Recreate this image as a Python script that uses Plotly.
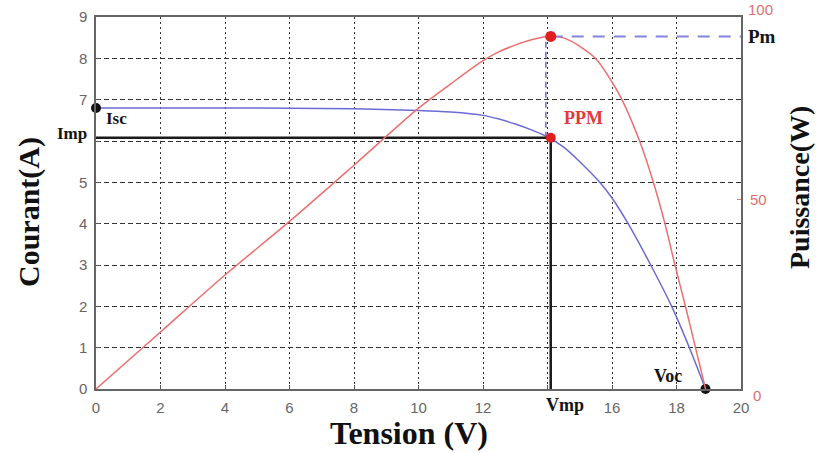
import plotly.graph_objects as go

# ---- data ----
volt_i = [0, 2, 4, 6, 8, 10, 11, 12, 12.5, 13, 13.5, 14, 14.5, 15, 15.6, 16, 16.5, 17.2, 17.85, 18.4, 18.9]
current = [6.8, 6.8, 6.8, 6.79, 6.78, 6.74, 6.7, 6.62, 6.53, 6.41, 6.27, 6.1, 5.85, 5.5, 5.02, 4.62, 4.0, 3.0, 2.0, 1.0, 0]

volt_p = [0, 2, 4, 6, 8, 10, 11, 12, 12.5, 13, 13.5, 14, 14.5, 15, 15.5, 16, 16.3, 16.85, 17.28, 17.64, 17.95, 18.3, 18.6, 18.9]
power = [0, 15.0, 30.0, 44.1, 58.9, 73.9, 80.3, 86.4, 88.8, 90.5, 91.9, 92.8, 92.4, 90.2, 86.9, 80.8, 76.3, 65.4, 54.5, 43.6, 32.7, 21.0, 10.5, 0]

Isc = 6.8
Voc = 18.9
Vmp = 14.1
Imp = 6.08
Pm = 92.8
V_dash = 13.95

x_ticks = [0, 2, 4, 6, 8, 10, 12, 14, 16, 18, 20]
x_ticktext = ["0", "2", "4", "6", "8", "10", "12", "", "16", "18", "20"]
y_ticks = [0, 1, 2, 3, 4, 5, 6, 7, 8, 9]
y_ticktext = ["0", "1", "2", "3", "4", "5", "", "7", "8", "9"]
p_labels = ["0", "50", "100"]
p_label_vals = [0, 50, 100]

X_RANGE = [0, 20]
I_RANGE = [0, 9]
P_RANGE = [0, 97.9]

BLUE = "#6b6bd6"
RED = "#ec6f6f"
DOT_RED = "#e01e1e"
SERIF = "Liberation Serif"
SANS = "Liberation Sans"

fig = go.Figure()

fig.add_trace(go.Scatter(x=volt_p, y=power, yaxis="y2", mode="lines",
                         line=dict(color=RED, width=1.5, shape="spline", smoothing=0.8),
                         hoverinfo="skip", showlegend=False))
fig.add_trace(go.Scatter(x=volt_i, y=current, mode="lines",
                         line=dict(color=BLUE, width=1.5, shape="spline", smoothing=0.8),
                         hoverinfo="skip", showlegend=False))
# Pm dashed horizontal
fig.add_trace(go.Scatter(x=[Vmp, X_RANGE[1]], y=[Pm, Pm], yaxis="y2", mode="lines",
                         line=dict(color="#8484dc", width=2, dash="12px,9px"),
                         hoverinfo="skip", showlegend=False))
# dashed vertical from peak down to PPM
fig.add_trace(go.Scatter(x=[V_dash, V_dash], y=[Imp, Pm * I_RANGE[1] / P_RANGE[1]], mode="lines",
                         line=dict(color="#6a6acc", width=1.5, dash="6px,4px"),
                         hoverinfo="skip", showlegend=False))
# Imp / Vmp black lines
fig.add_trace(go.Scatter(x=[0, Vmp, Vmp], y=[Imp, Imp, 0], mode="lines",
                         line=dict(color="#1a1a1a", width=2.5),
                         hoverinfo="skip", showlegend=False))
# points
fig.add_trace(go.Scatter(x=[0, Voc], y=[Isc, 0], mode="markers", cliponaxis=False,
                         marker=dict(color="#111111", size=10),
                         hoverinfo="skip", showlegend=False))
fig.add_trace(go.Scatter(x=[Vmp], y=[Imp], mode="markers", cliponaxis=False,
                         marker=dict(color=DOT_RED, size=10),
                         hoverinfo="skip", showlegend=False))
fig.add_trace(go.Scatter(x=[Vmp], y=[Pm], yaxis="y2", mode="markers", cliponaxis=False,
                         marker=dict(color=DOT_RED, size=11),
                         hoverinfo="skip", showlegend=False))

L, R, T, B = 96, 75, 17, 64
W, H = 816, 453
pw = W - L - R
ph = H - T - B


def px(xp):
    return (xp - L) / pw


def py(yp):
    return (H - B - yp) / ph


ann = []
lab = dict(family=SERIF, size=17, color="#151515")
ann.append(dict(text="<b>Isc</b>", x=px(104), y=py(118), xref="paper", yref="paper",
                xanchor="left", yanchor="middle", showarrow=False, font=lab))
ann.append(dict(text="<b>Imp</b>", x=px(89), y=py(133), xref="paper", yref="paper",
                xanchor="right", yanchor="middle", showarrow=False, font=lab))
ann.append(dict(text="<b>PPM</b>", x=px(562), y=py(118), xref="paper", yref="paper",
                xanchor="left", yanchor="middle", showarrow=False,
                font=dict(family=SERIF, size=18, color="#e23a3a")))
ann.append(dict(text="<b>Pm</b>", x=px(746), y=py(37), xref="paper", yref="paper",
                xanchor="left", yanchor="middle", showarrow=False,
                font=dict(family=SERIF, size=19, color="#151515")))
ann.append(dict(text="<b>Vmp</b>", x=px(544), y=py(405), xref="paper", yref="paper",
                xanchor="left", yanchor="middle", showarrow=False, font=dict(family=SERIF, size=18, color="#151515")))
ann.append(dict(text="<b>Voc</b>", x=px(652), y=py(376), xref="paper", yref="paper",
                xanchor="left", yanchor="middle", showarrow=False, font=dict(family=SERIF, size=18, color="#151515")))
# right-axis tick labels
for t, v, xl in zip(p_labels, p_label_vals, [751, 748, 746]):
    ann.append(dict(text=t, x=px(xl), y=py(389 - v * 3.8 + (6 if v == 0 else 0)), xref="paper", yref="paper",
                    xanchor="left", yanchor="middle", showarrow=False,
                    font=dict(family=SANS, size=15, color="#e07070")))
# axis titles
ann.append(dict(text="<b>Tension (V)</b>", x=px(409), y=py(433), xref="paper", yref="paper",
                xanchor="center", yanchor="middle", showarrow=False,
                font=dict(family=SERIF, size=32, color="#111111")))
ann.append(dict(text="<b>Courant(A)</b>", x=px(29), y=py(212), xref="paper", yref="paper",
                xanchor="center", yanchor="middle", showarrow=False, textangle=-90,
                font=dict(family=SERIF, size=30, color="#111111")))
ann.append(dict(text="<b>Puissance(W)</b>", x=px(799), y=py(188), xref="paper", yref="paper",
                xanchor="center", yanchor="middle", showarrow=False, textangle=-90,
                font=dict(family=SERIF, size=28, color="#111111")))

fig.update_layout(
    width=W, height=H,
    margin=dict(l=L, r=R, t=T, b=B, autoexpand=False),
    paper_bgcolor="white", plot_bgcolor="white",
    showlegend=False,
    xaxis=dict(range=X_RANGE, tickvals=x_ticks, ticktext=x_ticktext,
               showgrid=True, gridcolor="#333333", gridwidth=1, griddash="2px,3px",
               zeroline=False, showline=True, linecolor="#666666", linewidth=1.5, mirror=True,
               ticks="inside", ticklen=4, tickcolor="#555555",
               tickfont=dict(family=SANS, size=15, color="#666666"), ticklabelstandoff=4),
    yaxis=dict(range=I_RANGE, tickvals=y_ticks, ticktext=y_ticktext,
               showgrid=True, gridcolor="#333333", gridwidth=1, griddash="5px,3px",
               zeroline=False, showline=True, linecolor="#666666", linewidth=1.5, mirror=True,
               ticks="inside", ticklen=4, tickcolor="#555555",
               tickfont=dict(family=SANS, size=15, color="#666666"), ticklabelstandoff=4),
    yaxis2=dict(range=P_RANGE, overlaying="y", side="right", showgrid=False, zeroline=False,
                showline=False, tickvals=[50], ticktext=[""], ticks="inside", ticklen=4,
                tickcolor="#e08080", showticklabels=False),
    annotations=ann,
)

fig.write_html("out.html", config={"displayModeBar": False},
               post_script="document.body.style.margin='0px';document.body.style.overflow='hidden';")
